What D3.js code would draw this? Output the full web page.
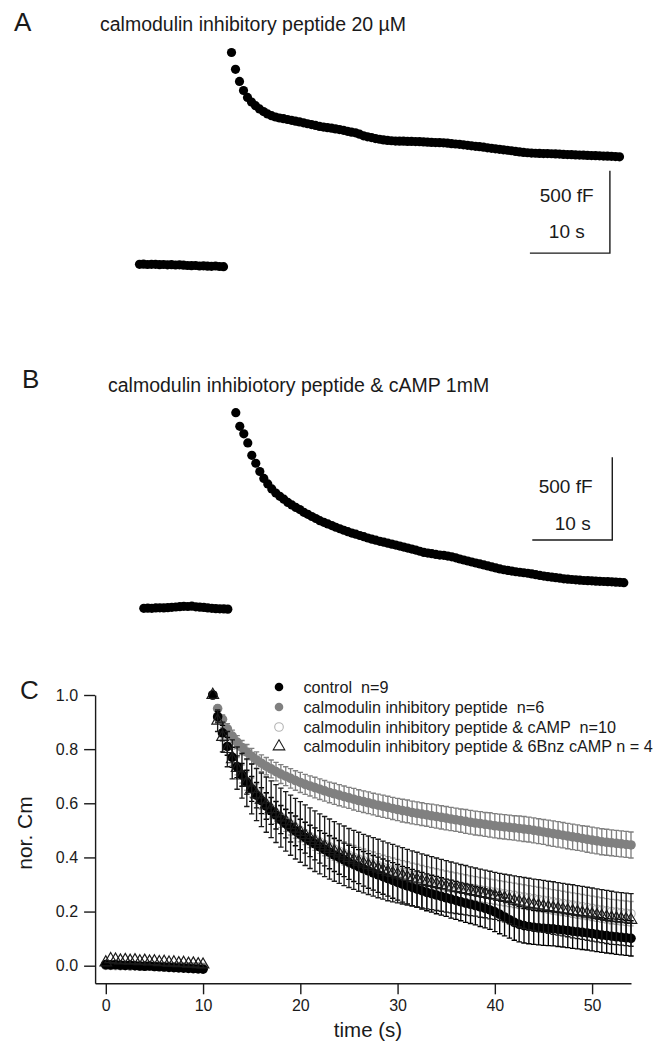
<!DOCTYPE html>
<html><head><meta charset="utf-8">
<script src="https://cdn.jsdelivr.net/npm/d3@7"></script>
<style>
html,body{margin:0;padding:0;background:#fff;}
svg{display:block;font-family:"Liberation Sans",Arial,sans-serif;}
.legtxt{white-space:pre;}
</style></head><body>
<svg id="fig" width="663" height="1044"></svg>
<script>
// Recordings are sampled every 0.5 s.
const SAMPLE_STEP = 0.5;

// ---------- Panel A: calmodulin inhibitory peptide 20 µM, ΔCm (fF) ----------
const baseTimesAB = d3.range(0, 10.5 + 1e-9, SAMPLE_STEP);   // pre-stimulus
const decayTimesAB = d3.range(11.5, 60 + 1e-9, SAMPLE_STEP);  // after the step
const baselineA = [4, 5, 3, 4, 4, 2, 3, 1, 2, 0, 1, -1, -3, -4, -3, -6, -5, -7, -8, -6, -9, -10];
const decayA = [
  1291, 1189, 1115, 1060, 1018, 990, 968, 948, 932, 918,
  907, 899, 893, 889, 884, 879, 874, 869, 864, 858,
  853, 848, 842, 838, 834, 831, 827, 823, 818, 812,
  807, 803, 795, 785, 779, 774, 768, 764, 760, 757,
  755, 753, 752, 752, 751, 751, 750, 749, 748, 746,
  745, 744, 743, 742, 740, 737, 735, 733, 730, 727,
  724, 721, 719, 716, 712, 709, 706, 703, 700, 697,
  694, 690, 687, 684, 682, 680, 679, 678, 677, 677,
  676, 675, 674, 672, 671, 670, 669, 668, 667, 666,
  665, 664, 663, 662, 661, 660, 659, 657];

// ---------- Panel B: calmodulin inhibitory peptide & cAMP 1 mM ----------
const baselineB = [0, 1, 0, 2, 3, 2, 4, 6, 8, 10, 12, 11, 13, 9, 7, 5, 2, 0, -2, -3, -4, -5];
const decayB = [
  1183, 1100, 1055, 1000, 925, 877, 827, 785, 752, 722,
  697, 677, 660, 640, 625, 610, 597, 580, 568, 555,
  543, 530, 520, 510, 500, 490, 481, 472, 463, 455,
  448, 440, 433, 425, 418, 412, 405, 400, 394, 388,
  382, 376, 370, 364, 358, 352, 345, 338, 334, 330,
  326, 322, 320, 316, 311, 305, 298, 292, 286, 280,
  274, 268, 262, 256, 250, 244, 238, 233, 229, 225,
  221, 218, 215, 212, 208, 203, 199, 195, 191, 188,
  185, 182, 178, 176, 174, 172, 170, 168, 167, 166,
  164, 163, 162, 161, 160, 158, 157, 155];

// Scale bars (10 s, 500 fF)
const scaleBarTime = 10, scaleBarCap = 500;

// ---------- Panel C: normalized Cm, mean ± SEM ----------
const baseTimesC = d3.range(0, 10 + 1e-9, SAMPLE_STEP);
const decayTimesC = d3.range(11, 54 + 1e-9, SAMPLE_STEP);
const xTicksC = [0, 10, 20, 30, 40, 50];
const yTicksC = [0.0, 0.2, 0.4, 0.6, 0.8, 1.0];

const legendLabels = [
  "control  n=9",
  "calmodulin inhibitory peptide  n=6",
  "calmodulin inhibitory peptide & cAMP  n=10",
  "calmodulin inhibitory peptide & 6Bnz cAMP n = 4"];

const controlBase = [0.004, 0.003, 0.004, 0.002, 0.001, 0.002, 0.000, -0.001, -0.002, -0.001, -0.003, -0.004, -0.005, -0.006, -0.007, -0.008, -0.009, -0.010, -0.011, -0.012, -0.013];
const controlMean = [
  1.000, 0.920, 0.860, 0.810, 0.770, 0.735, 0.705, 0.678, 0.653, 0.630,
  0.610, 0.590, 0.572, 0.556, 0.540, 0.525, 0.511, 0.498, 0.485, 0.473,
  0.461, 0.450, 0.439, 0.429, 0.419, 0.409, 0.400, 0.391, 0.382, 0.374,
  0.366, 0.358, 0.350, 0.343, 0.336, 0.329, 0.322, 0.315, 0.308, 0.301,
  0.295, 0.289, 0.283, 0.277, 0.271, 0.266, 0.261, 0.256, 0.251, 0.246,
  0.241, 0.236, 0.231, 0.227, 0.222, 0.217, 0.212, 0.206, 0.199, 0.190,
  0.180, 0.170, 0.160, 0.153, 0.148, 0.145, 0.142, 0.140, 0.138, 0.137,
  0.136, 0.134, 0.132, 0.130, 0.127, 0.125, 0.123, 0.121, 0.119, 0.116,
  0.113, 0.111, 0.109, 0.107, 0.105, 0.103, 0.101];
const controlSem = [
  0, .020, .028, .033, .037, .040, .042, .044, .046, .047,
  .048, .049, .050, .051, .052, .053, .054, .055, .056, .057,
  .058, .059, .060, .060, .061, .061, .062, .062, .063, .063,
  .063, .064, .064, .064, .065, .065, .065, .066, .066, .066,
  .067, .067, .067, .068, .068, .068, .069, .069, .069, .070,
  .070, .070, .071, .071, .071, .072, .072, .072, .073, .072,
  .070, .068, .066, .065, .064, .064, .063, .063, .063, .063,
  .063, .063, .063, .063, .063, .063, .063, .063, .064, .064,
  .064, .064, .064, .065, .065, .065, .065];

const cipBase = [0.002, 0.001, 0.002, 0.000, 0.001, -0.001, 0.000, -0.002, -0.001, -0.002, -0.003, -0.002, -0.004, -0.003, -0.005, -0.004, -0.006, -0.005, -0.007, -0.006, -0.008];
const cipMean = [
  1.000, 0.950, 0.910, 0.875, 0.848, 0.826, 0.806, 0.789, 0.774, 0.760,
  0.748, 0.737, 0.727, 0.717, 0.708, 0.700, 0.692, 0.684, 0.677, 0.670,
  0.664, 0.658, 0.652, 0.646, 0.640, 0.635, 0.630, 0.625, 0.620, 0.615,
  0.610, 0.606, 0.602, 0.597, 0.593, 0.589, 0.585, 0.581, 0.577, 0.573,
  0.570, 0.566, 0.563, 0.560, 0.557, 0.554, 0.551, 0.548, 0.545, 0.542,
  0.539, 0.536, 0.533, 0.530, 0.527, 0.525, 0.522, 0.520, 0.517, 0.515,
  0.513, 0.511, 0.509, 0.507, 0.505, 0.503, 0.500, 0.497, 0.494, 0.491,
  0.488, 0.485, 0.482, 0.479, 0.476, 0.473, 0.470, 0.467, 0.464, 0.461,
  0.458, 0.456, 0.454, 0.452, 0.450, 0.448, 0.446];
const cipSem = [
  0, .012, .016, .019, .022, .024, .026, .028, .029, .030,
  .031, .032, .033, .034, .035, .035, .036, .036, .037, .037,
  .037, .038, .038, .038, .038, .039, .039, .039, .039, .040,
  .040, .040, .040, .040, .041, .041, .041, .041, .041, .042,
  .042, .042, .042, .042, .042, .043, .043, .043, .043, .043,
  .043, .043, .044, .044, .044, .044, .044, .045, .045, .045,
  .045, .045, .045, .046, .046, .046, .046, .046, .046, .047,
  .047, .047, .047, .047, .047, .047, .047, .048, .048, .048,
  .048, .048, .048, .048, .048, .048, .048];

const cipCampBase = [0.001, 0.002, 0.000, 0.001, 0.000, -0.001, 0.000, -0.001, -0.002, -0.001, -0.002, -0.003, -0.002, -0.003, -0.004, -0.003, -0.004, -0.005, -0.004, -0.005, -0.006];
const cipCampMean = [
  1.000, 0.915, 0.855, 0.808, 0.770, 0.737, 0.708, 0.682, 0.658, 0.636,
  0.616, 0.598, 0.581, 0.565, 0.550, 0.536, 0.523, 0.511, 0.499, 0.488,
  0.477, 0.467, 0.457, 0.448, 0.439, 0.431, 0.423, 0.415, 0.408, 0.401,
  0.394, 0.388, 0.382, 0.376, 0.370, 0.364, 0.359, 0.354, 0.349, 0.344,
  0.339, 0.334, 0.330, 0.325, 0.321, 0.317, 0.313, 0.309, 0.305, 0.301,
  0.298, 0.294, 0.291, 0.287, 0.284, 0.281, 0.278, 0.275, 0.272, 0.269,
  0.266, 0.263, 0.260, 0.257, 0.254, 0.251, 0.248, 0.245, 0.242, 0.239,
  0.236, 0.233, 0.230, 0.227, 0.224, 0.221, 0.218, 0.215, 0.212, 0.209,
  0.206, 0.203, 0.200, 0.198, 0.196, 0.194, 0.192];
const cipCampSem = [
  0, .020, .025, .028, .030, .032, .033, .034, .035, .036,
  .037, .038, .038, .039, .039, .040, .040, .040, .041, .041,
  .041, .041, .042, .042, .042, .042, .042, .043, .043, .043,
  .043, .043, .043, .044, .044, .044, .044, .044, .044, .044,
  .045, .045, .045, .045, .045, .045, .045, .045, .045, .045,
  .045, .045, .045, .045, .045, .045, .045, .045, .045, .045,
  .045, .045, .045, .045, .045, .045, .045, .045, .045, .045,
  .045, .045, .045, .045, .045, .045, .045, .045, .045, .045,
  .045, .045, .045, .045, .045, .045, .045];

const bnzBase = [0.012, 0.024, 0.022, 0.019, 0.021, 0.018, 0.020, 0.016, 0.018, 0.015, 0.016, 0.013, 0.014, 0.011, 0.012, 0.009, 0.010, 0.007, 0.008, 0.005, 0.004];
const bnzMean = [
  1.000, 0.905, 0.845, 0.800, 0.762, 0.730, 0.702, 0.676, 0.653, 0.632,
  0.613, 0.595, 0.578, 0.562, 0.547, 0.533, 0.519, 0.506, 0.494, 0.482,
  0.471, 0.460, 0.450, 0.440, 0.431, 0.422, 0.414, 0.406, 0.398, 0.391,
  0.384, 0.377, 0.371, 0.365, 0.359, 0.353, 0.347, 0.342, 0.337, 0.332,
  0.327, 0.322, 0.318, 0.313, 0.309, 0.305, 0.301, 0.297, 0.293, 0.289,
  0.286, 0.282, 0.279, 0.275, 0.272, 0.268, 0.265, 0.261, 0.258, 0.254,
  0.250, 0.245, 0.240, 0.236, 0.232, 0.228, 0.225, 0.222, 0.219, 0.216,
  0.213, 0.210, 0.207, 0.204, 0.201, 0.198, 0.195, 0.192, 0.189, 0.186,
  0.183, 0.180, 0.177, 0.175, 0.173, 0.171, 0.169];
const bnzSem = [
  0, .040, .055, .065, .072, .078, .083, .088, .092, .096,
  .099, .102, .105, .107, .109, .110, .111, .112, .112, .112,
  .112, .112, .111, .111, .111, .110, .110, .110, .109, .109,
  .109, .108, .108, .108, .108, .107, .107, .106, .105, .104,
  .103, .102, .101, .100, .099, .098, .097, .096, .095, .094,
  .093, .092, .091, .090, .089, .089, .088, .088, .087, .087,
  .088, .090, .092, .093, .094, .095, .095, .096, .096, .096,
  .097, .097, .097, .097, .098, .098, .098, .098, .098, .098,
  .098, .098, .098, .097, .097, .097, .097];

// ======================================================================
const svg = d3.select("#fig");
const FONT = '"Liberation Sans", Arial, sans-serif';
const INK = "#1a1a1a";

function panelLetter(txt, x, y) {
  svg.append("text").attr("x", x).attr("y", y)
    .attr("font-size", 26).attr("fill", INK).text(txt);
}
function title(txt, x, y) {
  svg.append("text").attr("x", x).attr("y", y)
    .attr("font-size", 19.5).attr("fill", INK).text(txt);
}

// Single-cell capacitance trace with scale bar
function tracePanel(cfg) {
  const x = d3.scaleLinear().domain([0, 60]).range(cfg.xRange);
  const y = d3.scaleLinear().domain([0, scaleBarCap]).range(cfg.yRange);
  const g = svg.append("g");
  const pts = baseTimesAB.map((t, i) => [t, cfg.base[i]])
    .concat(decayTimesAB.map((t, i) => [t, cfg.decay[i]]));
  g.selectAll("circle").data(pts).join("circle")
    .attr("cx", d => x(d[0])).attr("cy", d => y(d[1]))
    .attr("r", 4.6).attr("fill", "#000");

  // scale bar: corner at (barT, barC)
  const cx = x(cfg.barT), cy = y(cfg.barC);
  const x0 = x(cfg.barT - scaleBarTime), y1 = y(cfg.barC + scaleBarCap);
  g.append("path")
    .attr("d", `M${cx},${y1}V${cy}H${x0}`)
    .attr("fill", "none").attr("stroke", INK).attr("stroke-width", 1.4);
  g.append("text").attr("x", cfg.capLabel[0]).attr("y", cfg.capLabel[1])
    .attr("text-anchor", "middle").attr("font-size", 19).attr("fill", INK).text("500 fF");
  g.append("text").attr("x", cfg.timeLabel[0]).attr("y", cfg.timeLabel[1])
    .attr("text-anchor", "middle").attr("font-size", 19).attr("fill", INK).text("10 s");
}

panelLetter("A", 14, 31);
title("calmodulin inhibitory peptide 20 \u00b5M", 100, 31);
tracePanel({
  xRange: [139.5, 619.5], yRange: [265, 182.7],
  base: baselineA, decay: decayA,
  barT: 58.8, barC: 72,
  capLabel: [566.7, 202], timeLabel: [566.8, 238]
});

panelLetter("B", 22, 388);
title("calmodulin inhibiotory peptide & cAMP 1mM", 108, 392);
tracePanel({
  xRange: [143.8, 623.8], yRange: [608.3, 525.6],
  base: baselineB, decay: decayB,
  barT: 58.56, barC: 413,
  capLabel: [565.6, 493], timeLabel: [572.7, 530]
});

// ---------------- Panel C ----------------
panelLetter("C", 20, 699);
const xC = d3.scaleLinear().domain([-1.1, 54]).range([95.1, 631]);
const yC = d3.scaleLinear().domain([-0.065, 1.0]).range([983.3, 695]);

const axX = svg.append("g").attr("transform", `translate(0,${yC(-0.065)})`)
  .call(d3.axisBottom(xC).tickValues(xTicksC).tickSize(11).tickSizeOuter(0).tickPadding(5)
    .tickFormat(d3.format("d")));
const axY = svg.append("g").attr("transform", `translate(${xC(-1.1)},0)`)
  .call(d3.axisLeft(yC).tickValues(yTicksC).tickSize(11).tickSizeOuter(0).tickPadding(6)
    .tickFormat(d3.format(".1f")));
[axX, axY].forEach(a => {
  a.selectAll("path,line").attr("stroke", INK).attr("stroke-width", 1.4);
  a.selectAll("text").attr("font-family", FONT).attr("font-size", 16).attr("fill", INK);
});

svg.append("text").attr("x", 368).attr("y", 1037).attr("text-anchor", "middle")
  .attr("font-size", 20.5).attr("fill", INK).text("time (s)");
svg.append("text").attr("transform", "translate(32,833) rotate(-90)")
  .attr("text-anchor", "middle").attr("font-size", 21).attr("fill", INK).text("nor. Cm");

const plotC = svg.append("g");
const triSym = d3.symbol(d3.symbolTriangle, 58);

function drawSeries(base, mean, sem, style) {
  const g = plotC.append("g");
  const pts = baseTimesC.map((t, i) => ({ t, v: base[i], s: 0 }))
    .concat(decayTimesC.map((t, i) => ({ t, v: mean[i], s: sem[i] })));
  const bars = pts.filter(d => d.s > 0);
  const cap = 2.7;
  g.append("path")
    .attr("d", bars.map(d => {
      const x = xC(d.t), yl = yC(d.v - d.s), yh = yC(d.v + d.s);
      return `M${x},${yl}V${yh}M${x - cap},${yh}H${x + cap}M${x - cap},${yl}H${x + cap}`;
    }).join(""))
    .attr("fill", "none").attr("stroke", style.bar).attr("stroke-width", 1.35);
  if (style.shape === "triangle") {
    g.selectAll("path.m").data(pts).join("path").attr("class", "m")
      .attr("d", triSym)
      .attr("transform", d => `translate(${xC(d.t)},${yC(d.v)})`)
      .attr("fill", "none").attr("stroke", style.stroke).attr("stroke-width", 1.2);
  } else {
    g.selectAll("circle").data(pts).join("circle")
      .attr("cx", d => xC(d.t)).attr("cy", d => yC(d.v)).attr("r", style.r)
      .attr("fill", style.fill).attr("stroke", style.stroke).attr("stroke-width", 1.1);
  }
}

const styles = [
  { fill: "#000", stroke: "none", bar: "#000", r: 4.8 },
  { fill: "#808080", stroke: "none", bar: "#808080", r: 4.8 },
  { fill: "none", stroke: "#b3b3b3", bar: "#a6a6a6", r: 4.2 },
  { shape: "triangle", stroke: "#1a1a1a", bar: "#1a1a1a" }
];

drawSeries(cipCampBase, cipCampMean, cipCampSem, styles[2]);
drawSeries(cipBase, cipMean, cipSem, styles[1]);
drawSeries(controlBase, controlMean, controlSem, styles[0]);
drawSeries(bnzBase, bnzMean, bnzSem, styles[3]);

// legend
const legRows = [687, 707, 727, 746.5];
const leg = svg.append("g");
legendLabels.forEach((lab, i) => {
  const st = styles[i], y = legRows[i];
  if (st.shape === "triangle") {
    leg.append("path").attr("d", triSym).attr("transform", `translate(279,${y})`)
      .attr("fill", "none").attr("stroke", st.stroke).attr("stroke-width", 1.1);
  } else {
    leg.append("circle").attr("cx", 279).attr("cy", y).attr("r", 4.3)
      .attr("fill", st.fill).attr("stroke", st.stroke).attr("stroke-width", 1.1);
  }
  leg.append("text").attr("class", "legtxt").attr("x", 303.5).attr("y", y + 5.6)
    .attr("font-size", 16.2).attr("fill", INK).text(lab);
});
</script>
</body></html>
